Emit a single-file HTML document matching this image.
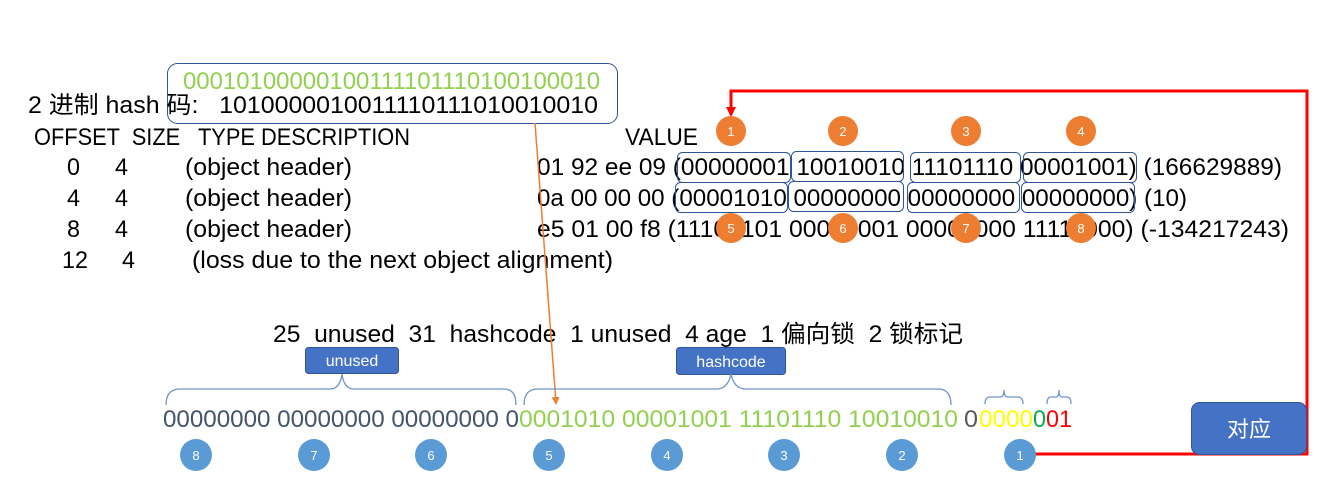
<!DOCTYPE html>
<html><head><meta charset="utf-8"><style>
html,body{margin:0;padding:0;background:#fff;}
svg{display:block;font-family:"Liberation Sans","Noto Sans CJK SC",sans-serif;white-space:pre;}
text{white-space:pre;}
</style></head><body>
<svg width="1325" height="491" viewBox="0 0 1325 491" xmlns="http://www.w3.org/2000/svg" xml:space="preserve">
<defs>
<marker id="ar" markerWidth="8" markerHeight="8" refX="6" refY="4" orient="auto" markerUnits="userSpaceOnUse"><path d="M0,0 L8,4 L0,8 z" fill="#ed7d31"/></marker>
<marker id="rr" markerWidth="10" markerHeight="10" refX="8" refY="5" orient="auto" markerUnits="userSpaceOnUse"><path d="M0,0 L10,5 L0,10 z" fill="#f00"/></marker>
</defs>
<rect width="1325" height="491" fill="#fff"/>
<polyline points="1035,454 1307,454 1307,91 731,91 731,115" fill="none" stroke="#f00" stroke-width="3" marker-end="url(#rr)"/>
<rect x="167.5" y="63.5" width="450" height="60" rx="10" fill="none" stroke="#2f5597" stroke-width="1"/>
<g font-size="24" fill="#000">
<text x="183" y="89" fill="#92d050" textLength="417" lengthAdjust="spacingAndGlyphs">00010100000100111101110100100010</text>
<text x="28" y="113" textLength="570" lengthAdjust="spacingAndGlyphs">2 进制 hash 码:   1010000010011110111010010010</text>
<text x="34" y="145" textLength="376" lengthAdjust="spacingAndGlyphs">OFFSET  SIZE   TYPE DESCRIPTION</text>
<text x="625" y="145" textLength="73" lengthAdjust="spacingAndGlyphs">VALUE</text>
<text x="67" y="175" textLength="13" lengthAdjust="spacingAndGlyphs">0</text><text x="115" y="175" textLength="13" lengthAdjust="spacingAndGlyphs">4</text>
<text x="185" y="175" textLength="167" lengthAdjust="spacingAndGlyphs">(object header)</text>
<text x="67" y="206" textLength="13" lengthAdjust="spacingAndGlyphs">4</text><text x="115" y="206" textLength="13" lengthAdjust="spacingAndGlyphs">4</text>
<text x="185" y="206" textLength="167" lengthAdjust="spacingAndGlyphs">(object header)</text>
<text x="67" y="237" textLength="13" lengthAdjust="spacingAndGlyphs">8</text><text x="115" y="237" textLength="13" lengthAdjust="spacingAndGlyphs">4</text>
<text x="185" y="237" textLength="167" lengthAdjust="spacingAndGlyphs">(object header)</text>
<text x="62" y="268" textLength="26" lengthAdjust="spacingAndGlyphs">12</text><text x="122" y="268" textLength="13" lengthAdjust="spacingAndGlyphs">4</text>
<text x="192" y="268" textLength="421" lengthAdjust="spacingAndGlyphs">(loss due to the next object alignment)</text>
<text x="537" y="175" textLength="745" lengthAdjust="spacingAndGlyphs">01 92 ee 09 (00000001 10010010 11101110 00001001) (166629889)</text>
<text x="537" y="206" textLength="650" lengthAdjust="spacingAndGlyphs">0a 00 00 00 (00001010 00000000 00000000 00000000) (10)</text>
<text x="537" y="237" textLength="752" lengthAdjust="spacingAndGlyphs">e5 01 00 f8 (11100101 00000001 00000000 11111000) (-134217243)</text>
<text x="273" y="342" textLength="690" lengthAdjust="spacingAndGlyphs">25  unused  31  hashcode  1 unused  4 age  1 偏向锁  2 锁标记</text>
</g>
<g fill="none" stroke="#2f5597" stroke-width="1">
<rect x="677.5" y="152.5" width="113" height="30" rx="5"/>
<rect x="791.5" y="151.5" width="112" height="30" rx="5"/>
<rect x="910.5" y="152.5" width="110" height="30" rx="5"/>
<rect x="1023.5" y="152.5" width="113" height="30" rx="5"/>
<rect x="675.5" y="182.5" width="112" height="30" rx="5"/>
<rect x="788.5" y="181.5" width="115" height="30" rx="5"/>
<rect x="907.5" y="182.5" width="112" height="30" rx="5"/>
<rect x="1021.5" y="182.5" width="113" height="30" rx="5"/>
</g>
<g fill="#ed7d31">
<circle cx="731" cy="131" r="15"/><circle cx="843" cy="131" r="15"/><circle cx="966" cy="131" r="15"/><circle cx="1081" cy="131" r="15"/>
<circle cx="731" cy="228" r="15"/><circle cx="843" cy="228" r="15"/><circle cx="966" cy="228" r="15"/><circle cx="1081" cy="228" r="15"/>
</g>
<g fill="#fff" font-size="13" text-anchor="middle">
<text x="731" y="136">1</text><text x="843" y="136">2</text><text x="966" y="136">3</text><text x="1081" y="136">4</text>
<text x="731" y="233">5</text><text x="843" y="233">6</text><text x="966" y="233">7</text><text x="1081" y="233">8</text>
</g>
<line x1="535" y1="123" x2="556" y2="403" stroke="#ed7d31" stroke-width="1.5" marker-end="url(#ar)"/>
<rect x="305.5" y="347.5" width="93" height="26" rx="3" fill="#4472c4" stroke="#2f5597"/>
<text x="352" y="366" fill="#fff" font-size="16" text-anchor="middle">unused</text>
<rect x="676.5" y="347.5" width="109" height="27" rx="3" fill="#4472c4" stroke="#2f5597"/>
<text x="731" y="367" fill="#fff" font-size="16" text-anchor="middle">hashcode</text>
<g fill="none" stroke="#6f93cd" stroke-width="1.3">
<path d="M166,405 Q166,389 180,389 L330,389 Q340,389 342,374 Q344,389 354,389 L504,389 Q516,389 516,405"/>
<path d="M524,405 Q524,389 538,389 L716,389 Q728,389 731,374 Q734,389 746,389 L938,389 Q951,389 951,405"/>
<path d="M985,404 Q985,397 990,397 L1000,397 Q1004,397 1004,390 Q1004,397 1008,397 L1018,397 Q1023,397 1023,404"/>
<path d="M1047,404 Q1047,397 1051,397 L1056,397 Q1059,397 1059,390 Q1059,397 1062,397 L1067,397 Q1071,397 1071,404"/>
</g>
<g font-size="24">
<text x="163" y="427" fill="#44546a" textLength="356" lengthAdjust="spacingAndGlyphs">00000000 00000000 00000000 0</text>
<text x="519" y="427" fill="#92d050" textLength="439" lengthAdjust="spacingAndGlyphs">0001010 00001001 11101110 10010010</text>
<text x="964" y="427" fill="#595959" textLength="14" lengthAdjust="spacingAndGlyphs">0</text>
<text x="979" y="427" fill="#ffff00" textLength="54" lengthAdjust="spacingAndGlyphs">0000</text>
<text x="1033" y="427" fill="#00b050" textLength="13" lengthAdjust="spacingAndGlyphs">0</text>
<text x="1046" y="427" fill="#ff0000" textLength="26" lengthAdjust="spacingAndGlyphs">01</text>
</g>
<g fill="#5b9bd5">
<circle cx="196" cy="455" r="16"/><circle cx="314" cy="455" r="16"/><circle cx="431" cy="455" r="16"/><circle cx="549" cy="455" r="16"/>
<circle cx="667" cy="455" r="16"/><circle cx="784" cy="455" r="16"/><circle cx="902" cy="455" r="16"/><circle cx="1020" cy="455" r="16"/>
</g>
<g fill="#fff" font-size="13" text-anchor="middle">
<text x="196" y="460">8</text><text x="314" y="460">7</text><text x="431" y="460">6</text><text x="549" y="460">5</text>
<text x="667" y="460">4</text><text x="784" y="460">3</text><text x="902" y="460">2</text><text x="1020" y="460">1</text>
</g>
<rect x="1191.5" y="402.5" width="115" height="52" rx="8" fill="#4472c4" stroke="#2f5597"/>
<text x="1249" y="437" fill="#fff" font-size="22" text-anchor="middle">对应</text>
</svg>
</body></html>
